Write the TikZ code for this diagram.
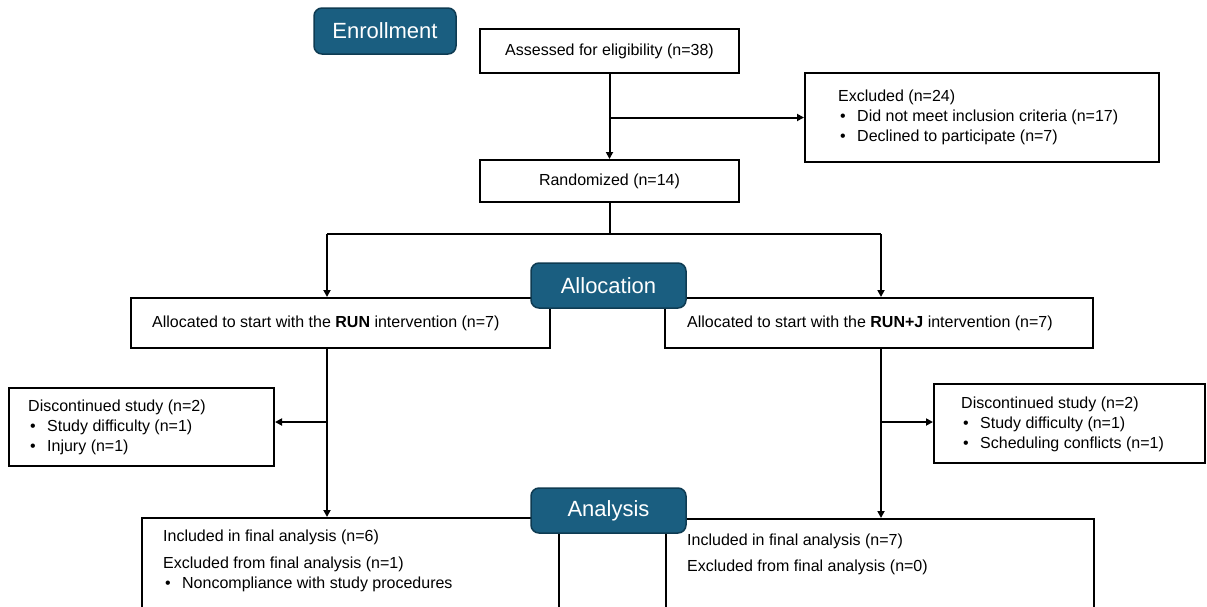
\documentclass[tikz,border=0pt]{standalone}
\usepackage{fontspec}
\setmainfont{Liberation Sans}
\usetikzlibrary{arrows.meta}
\definecolor{hdrfill}{HTML}{1A5E80}
\definecolor{hdrline}{HTML}{0E3B52}
\newcommand{\bitem}[1]{\makebox[19pt][l]{\hspace{2pt}\textbullet}#1}

\begin{document}
\begin{tikzpicture}[x=1pt,y=-1pt,
    box/.style={draw, line width=2pt, inner sep=0pt, font=\fontsize{16}{20}\selectfont},
    hdr/.style={draw=hdrline, fill=hdrfill, line width=1.5pt, rounded corners=8pt,
      text=white, font=\fontsize{22}{26}\selectfont, minimum width=155pt, minimum height=45pt},
    lbl/.style={anchor=west, align=left, inner sep=0pt, font=\fontsize{16}{20}\selectfont},
    ln/.style={line width=2pt},
    arr/.style={line width=2pt, -{Triangle[length=7pt,width=7pt]}}]
  \useasboundingbox (0,0) rectangle (1207,606);
  \clip (0,0) rectangle (1207,606);

  % enrollment
  \node[box, minimum width=259pt, minimum height=44pt] (assess) at (609.5,51) {Assessed for eligibility (n=38)};
  \node[box, minimum width=259pt, minimum height=42pt] (rand) at (609.5,181) {Randomized (n=14)};
  \node[box, minimum width=354pt, minimum height=89pt] (excl) at (982,117.5) {};
  \node[lbl] (excl-t) at (838,117.5) {Excluded (n=24)\\ \bitem{Did not meet inclusion criteria (n=17)}\\ \bitem{Declined to participate (n=7)}};

  % allocation
  \node[box, minimum width=419pt, minimum height=50pt] (alloc1) at (340.5,323) {};
  \node[lbl] (alloc1-t) at (152,323) {Allocated to start with the \textbf{RUN} intervention (n=7)};
  \node[box, minimum width=428pt, minimum height=50pt] (alloc2) at (879,323) {};
  \node[lbl] (alloc2-t) at (687,323) {Allocated to start with the \textbf{RUN+J} intervention (n=7)};

  \node[box, minimum width=265pt, minimum height=78pt] (disc1) at (141.5,427) {};
  \node[lbl] (disc1-t) at (28,427) {Discontinued study (n=2)\\ \bitem{Study difficulty (n=1)}\\ \bitem{Injury (n=1)}};
  \node[box, minimum width=271pt, minimum height=79pt] (disc2) at (1069.5,423.5) {};
  \node[lbl] (disc2-t) at (961,424) {Discontinued study (n=2)\\ \bitem{Study difficulty (n=1)}\\ \bitem{Scheduling conflicts (n=1)}};

  % analysis
  \node[box, minimum width=417pt, minimum height=124pt] (incl1) at (350.5,580) {};
  \node[lbl] (incl1-t) at (163,561) {Included in final analysis (n=6)\\[7pt] Excluded from final analysis (n=1)\\ \bitem{Noncompliance with study procedures}};
  \node[box, minimum width=428pt, minimum height=122pt] (incl2) at (880,580) {};
  \node[lbl] (incl2-t) at (687,554) {Included in final analysis (n=7)\\[6pt] Excluded from final analysis (n=0)};

  % connectors
  \coordinate (lx) at (327,234);
  \coordinate (rx) at (881,234);
  \coordinate (lbr) at (327,422);
  \coordinate (rbr) at (881,422);
  \draw[arr] (assess.south) -- (rand.north);
  \draw[arr] (assess.south |- excl.west) -- (excl.west);
  \draw[ln] (rand.south) -- (rand.south |- lx);
  \draw[ln] (lx) -- (rx);
  \draw[arr] (lx) -- (lx |- alloc1.north);
  \draw[arr] (rx) -- (rx |- alloc2.north);
  \draw[arr] (lx |- alloc1.south) -- (lx |- incl1.north);
  \draw[arr] (rx |- alloc2.south) -- (rx |- incl2.north);
  \draw[arr] (lbr) -- (lbr -| disc1.east);
  \draw[arr] (rbr) -- (rbr -| disc2.west);

  % stage labels
  \node[hdr, minimum width=142pt, minimum height=46pt] (enroll) at (385,31) {Enrollment};
  \node[hdr] (allochdr) at (608.5,285.5) {Allocation};
  \node[hdr] (analysis) at (608.5,510.5) {Analysis};
\end{tikzpicture}
\end{document}
